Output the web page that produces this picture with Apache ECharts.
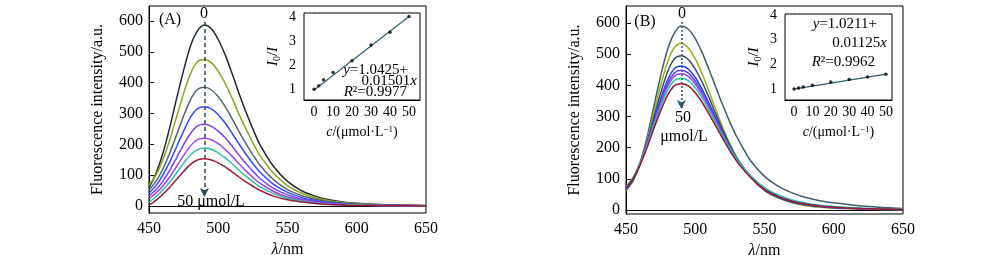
<!DOCTYPE html>
<html><head><meta charset="utf-8">
<script src="https://cdn.jsdelivr.net/npm/echarts@6/dist/echarts.min.js"></script>
<style>html,body{margin:0;padding:0;background:#fff}#c{width:1000px;height:276px}</style>
</head><body><div id="c"></div>
<script>
// wavelength grid (nm)
const wl = [450,455,460,465,470,475,480,485,490,495,500,505,510,515,520,525,530,540,550,560,570,580,590,600,620,650];
// Panel A spectra (0 -> 50 umol/L)
const a1 = [60,105,170,255,350,440,520,568,587,575,540,490,430,365,305,250,200,128,80,50,32,20,13,9,4,2];
const a2 = [68,100,150,215,290,365,430,468,475,465,437,398,350,298,250,205,165,106,66,42,27,17,11,7,3,1];
const a3 = [52,80,120,172,232,292,345,378,385,377,354,322,283,241,202,166,133,85,53,34,22,14,9,6,3,1];
const a4 = [42,66,100,143,193,243,288,316,322,315,296,269,236,201,168,138,110,70,44,28,18,11,7,5,2,1];
const a5 = [33,53,80,116,157,199,236,260,265,259,243,221,194,165,138,113,90,57,36,23,15,9,6,4,2,1];
const a6 = [24,42,65,94,129,164,195,215,220,215,202,183,161,137,114,93,74,47,29,19,12,8,5,3,2,1];
const a7 = [12,30,52,78,108,139,166,183,188,184,172,156,137,116,97,79,63,40,25,16,10,6,4,3,1,1];
const a8 = [3,18,38,61,87,112,135,149,153,149,140,127,111,94,78,64,51,32,20,13,8,5,3,2,1,0];
// Panel B spectra
const b1 = [65,95,150,230,330,430,515,568,590,580,550,505,450,392,335,282,235,158,108,76,55,40,30,23,13,5];
const b2 = [62,92,145,220,310,400,475,522,535,520,485,437,380,320,263,212,168,105,62,38,23,14,9,6,3,1];
const b3 = [64,95,145,215,295,375,443,485,495,483,452,410,360,306,255,208,167,106,64,40,25,16,11,7,4,2];
const b4 = [68,98,146,212,285,356,417,454,462,452,425,387,342,294,247,203,165,107,66,42,27,18,12,8,4,2];
const b5 = [70,100,147,210,280,347,405,440,448,439,413,377,334,288,243,201,164,108,68,44,29,19,13,9,5,2];
const b6 = [72,102,148,208,276,340,396,430,437,429,404,369,328,284,240,199,163,108,69,45,30,20,14,10,5,2];
const b7 = [75,104,148,205,270,331,384,416,422,415,392,359,320,278,236,197,163,110,72,48,32,22,15,11,6,3];
const b8 = [72,100,143,198,260,318,368,399,405,398,376,345,308,268,228,190,156,104,66,43,28,19,13,9,5,2];
// Insets: concentration (umol/L) vs I0/I
const conc = [0,2.5,5,10,20,30,40,50];
const ratioA = [1.0,1.14,1.40,1.70,2.19,2.85,3.38,4.03];
const ratioB = [1.0,1.04,1.08,1.15,1.28,1.38,1.49,1.60];
const fitA = [[0,0.97],[50,4.03]];
const fitB = [[0,0.99],[50,1.60]];
// arrows: [x, yStart, yEnd]
const arrowA = [490, 597, 29];
const arrowB = [490, 603, 324];
const mainTicks = [0,100,200,300,400,500,600];
const insetXTicks = [0,10,20,30,40,50];
const insetYTicks = [1,2,3,4];

const colorsA = ['#1c2833','#8aa61a','#50656f','#2f4dff','#7d3ff0','#9a40f5','#2fc0a0','#9e1a33'];
const colorsB = ['#3f5c6b','#96b01a','#334d5c','#1f3cff','#6040f0','#a040f0','#20c8a8','#a01030'];
const specA = [a1,a2,a3,a4,a5,a6,a7,a8];
const specB = [b1,b2,b3,b4,b5,b6,b7,b8];

const FF = 'Liberation Serif';
const chart = echarts.init(document.getElementById('c'), null, {renderer:'canvas'});

function mainY(gi, min, max){
  return {gridIndex:gi, type:'value', min:min, max:max,
    axisLine:{show:true, lineStyle:{color:'#000', width:1}},
    axisTick:{show:true, inside:true, length:5, customValues:mainTicks, lineStyle:{color:'#000'}},
    axisLabel:{customValues:mainTicks, color:'#000', fontFamily:FF, fontSize:16, margin:6},
    splitLine:{show:false},
    name:'Fluorescence intensity/a.u.', nameLocation:'middle', nameGap:43,
    nameTextStyle:{color:'#000', fontFamily:FF, fontSize:16}};
}
function mainX(gi){
  return {gridIndex:gi, type:'value', min:450, max:650, interval:50,
    axisLine:{show:true, lineStyle:{color:'#000', width:1}},
    axisTick:{show:false},
    axisLabel:{color:'#000', fontFamily:FF, fontSize:16, margin:8},
    splitLine:{show:false},
    name:'{i|λ}/nm', nameLocation:'middle', nameGap:28,
    nameTextStyle:{color:'#000', fontFamily:FF, fontSize:16, rich:{i:{fontStyle:'italic', fontFamily:FF, fontSize:16, color:'#000'}}}};
}
function insetX(gi, min, max){
  return {gridIndex:gi, type:'value', min:min, max:max,
    axisLine:{show:true, lineStyle:{color:'#000', width:1}},
    axisTick:{show:true, inside:true, length:4, customValues:insetXTicks, lineStyle:{color:'#000'}},
    axisLabel:{customValues:insetXTicks, color:'#000', fontFamily:FF, fontSize:14, margin:5},
    splitLine:{show:false},
    name:'{i|c}/(μmol·L{sup|−1})', nameLocation:'middle', nameGap:25,
    nameTextStyle:{color:'#000', fontFamily:FF, fontSize:14,
      rich:{i:{fontStyle:'italic', fontFamily:FF, fontSize:14, color:'#000'},
            sup:{fontFamily:FF, fontSize:9, color:'#000', verticalAlign:'top', padding:[0,0,6,0]}}}};
}
function insetY(gi, min, max){
  return {gridIndex:gi, type:'value', min:min, max:max,
    axisLine:{show:true, lineStyle:{color:'#000', width:1}},
    axisTick:{show:true, inside:true, length:4, customValues:insetYTicks, lineStyle:{color:'#000'}},
    axisLabel:{customValues:insetYTicks, color:'#000', fontFamily:FF, fontSize:14, margin:8},
    splitLine:{show:false},
    name:'{i|I}{sub|0}/{i|I}', nameLocation:'middle', nameGap:22,
    nameTextStyle:{color:'#000', fontFamily:FF, fontSize:15,
      rich:{i:{fontStyle:'italic', fontFamily:FF, fontSize:15, color:'#000'},
            sub:{fontFamily:FF, fontSize:10, color:'#000', padding:[7,0,0,0]}}}};
}

const series = [];
specA.forEach((v,k)=>{
  series.push({type:'line', xAxisIndex:0, yAxisIndex:0, data:wl.map((w,i)=>[w,v[i]]),
    smooth:0.3, showSymbol:false, symbol:'none', lineStyle:{color:colorsA[k], width:1.5}, z:2+k,
    markLine: k===0 ? {silent:true, symbol:['none','arrow'], symbolSize:[7,9], label:{show:false},
      lineStyle:{type:[4,3], color:'#2f4a5a', width:1.5},
      data:[[{coord:[arrowA[0],arrowA[1]]},{coord:[arrowA[0],arrowA[2]]}]]} : undefined});
});
specB.forEach((v,k)=>{
  series.push({type:'line', xAxisIndex:2, yAxisIndex:2, data:wl.map((w,i)=>[w,v[i]]),
    smooth:0.3, showSymbol:false, symbol:'none', lineStyle:{color:colorsB[k], width:1.5}, z:2+k,
    markLine: k===0 ? {silent:true, symbol:['none','arrow'], symbolSize:[7,9], label:{show:false},
      lineStyle:{type:[2,2], color:'#2f5a6a', width:1.5},
      data:[[{coord:[arrowB[0],arrowB[1]]},{coord:[arrowB[0],arrowB[2]]}]]} : undefined});
});
[[1,ratioA,fitA],[3,ratioB,fitB]].forEach(([gi,r,f])=>{
  series.push({type:'line', xAxisIndex:gi, yAxisIndex:gi, data:f, showSymbol:false, symbol:'none',
    lineStyle:{color:'#2e5f70', width:1.2}, z:20});
  series.push({type:'scatter', xAxisIndex:gi, yAxisIndex:gi, data:conc.map((c,i)=>[c,r[i]]),
    symbolSize:3.5, itemStyle:{color:'#000'}, z:21});
});

function txt(x,y,t,opts){
  return Object.assign({type:'text', x:x, y:y, z:100, style:Object.assign({text:t, fill:'#000',
    font:'16px "Liberation Serif"', textAlign:'center', textVerticalAlign:'middle'}, opts||{})});
}
const richI = {i:{fontStyle:'italic', fontFamily:FF, fontSize:15, fill:'#000'}};
chart.setOption({
  animation:false,
  backgroundColor:'#fff',
  grid:[
    {left:149, top:6, right:574, bottom:63, show:true, borderColor:'#000', borderWidth:1, z:0},
    {left:304, top:13, right:580, bottom:176, show:true, borderColor:'#000', borderWidth:1, backgroundColor:'#fff', z:10},
    {left:626, top:6, right:97, bottom:62, show:true, borderColor:'#000', borderWidth:1, z:0},
    {left:785, top:14, right:108, bottom:176, show:true, borderColor:'#000', borderWidth:1, backgroundColor:'#fff', z:10}
  ],
  xAxis:[mainX(0), insetX(1,-5.3,55.8), mainX(2), insetX(3,-4.9,53.3)],
  yAxis:[mainY(0,-22.7,648.6), insetY(1,0.55,4.18), mainY(2,-12.8,654.5), insetY(3,0.55,4.05)],
  series:series,
  graphic:[
    txt(170,20,'(A)'), txt(204,14,'0'), txt(211,202,'50 μmol/L'),
    txt(645,22,'(B)'), txt(682,14,'0'), txt(683,118,'50'), txt(684,137,'μmol/L'),
    {type:'text', x:408, y:70, z:100, style:{text:'{i|y}=1.0425+', rich:richI, font:'15px "Liberation Serif"', fill:'#000', textAlign:'right', textVerticalAlign:'middle'}},
    {type:'text', x:417, y:81, z:100, style:{text:'0.01501{i|x}', rich:richI, font:'15px "Liberation Serif"', fill:'#000', textAlign:'right', textVerticalAlign:'middle'}},
    {type:'text', x:407, y:92, z:100, style:{text:'{i|R}²=0.9977', rich:richI, font:'15px "Liberation Serif"', fill:'#000', textAlign:'right', textVerticalAlign:'middle'}},
    {type:'text', x:877, y:24, z:100, style:{text:'{i|y}=1.0211+', rich:richI, font:'15px "Liberation Serif"', fill:'#000', textAlign:'right', textVerticalAlign:'middle'}},
    {type:'text', x:887, y:43, z:100, style:{text:'0.01125{i|x}', rich:richI, font:'15px "Liberation Serif"', fill:'#000', textAlign:'right', textVerticalAlign:'middle'}},
    {type:'text', x:875, y:62, z:100, style:{text:'{i|R}²=0.9962', rich:richI, font:'15px "Liberation Serif"', fill:'#000', textAlign:'right', textVerticalAlign:'middle'}}
  ]
});
</script></body></html>
